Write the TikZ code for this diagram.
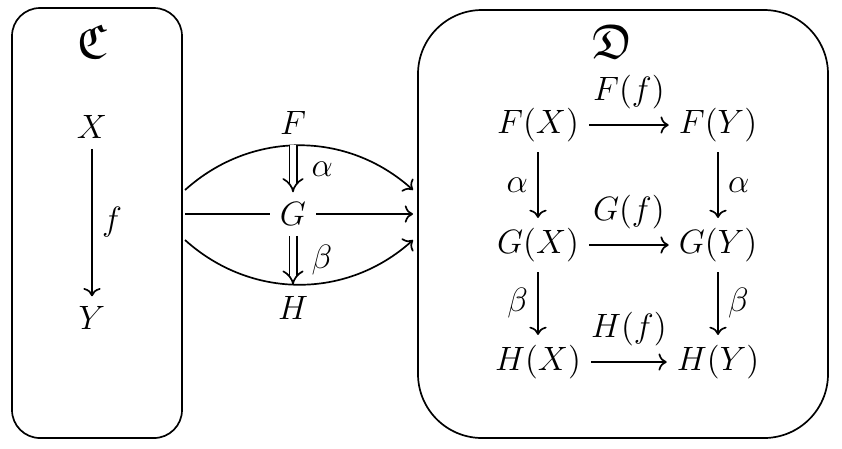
\documentclass[tikz,border=0pt]{standalone}
\usepackage{amsmath,amssymb}
\usetikzlibrary{positioning,calc,arrows.meta}

\begin{document}
\begin{tikzpicture}[x=0.0125cm, y=-0.0125cm, font=\large, semithick,
    catbox/.style={draw, semithick},
    nat/.style={double, double distance=2pt, -{Implies}, semithick}]
    \useasboundingbox (0,0) rectangle (842,448);

    % categories
    \draw [catbox, rounded corners=0.35cm] (12,8) rectangle (182,438);
    \draw [catbox, rounded corners=0.8cm] (418,10) rectangle (828,438);
    \node (C) at (92,42) {\LARGE$\mathfrak{C}$};
    \node (D) at (613,42) {\LARGE$\mathfrak{D}$};

    % f : X -> Y
    \node (X) at (92,127) {$X$};
    \node (Y) at (92,318) {$Y$};
    \draw [->] (X) -- node [right] {$f$} (Y);

    % functors F, G, H
    \coordinate (s1) at (185,190); \coordinate (t1) at (413,190);
    \coordinate (s2) at (185,214); \coordinate (t2) at (413,214);
    \coordinate (s3) at (185,240); \coordinate (t3) at (413,240);
    \node (F) at (293,123) {$F$};
    \node (G) at (293,214) {$G$};
    \node (H) at (293,308) {$H$};
    \draw [->] (s1) to [bend left=42] coordinate (topF) (t1);
    \draw (s2) -- (G);
    \draw [->] (G) -- (t2);
    \draw [->] (s3) to [bend right=42] coordinate (botH) (t3);
    \draw [nat] (topF -| G) -- node [right=3pt] {$\alpha$} (G);
    \draw [nat] (G) -- node [right=3pt] {$\beta$} (botH -| G);

    % naturality squares
    \foreach \r/\y in {F/125,G/245,H/362} {
        \node (\r X) at (538,\y) {$\r(X)$};
        \node (\r Y) at (718,\y) {$\r(Y)$};
        \draw [->] (\r X) -- node [above=2pt] {$\r(f)$} (\r Y);
    }
    \draw [->] (FX) -- node [left] {$\alpha$} (GX);
    \draw [->] (FY) -- node [right] {$\alpha$} (GY);
    \draw [->] (GX) -- node [left] {$\beta$} (HX);
    \draw [->] (GY) -- node [right] {$\beta$} (HY);
\end{tikzpicture}
\end{document}
